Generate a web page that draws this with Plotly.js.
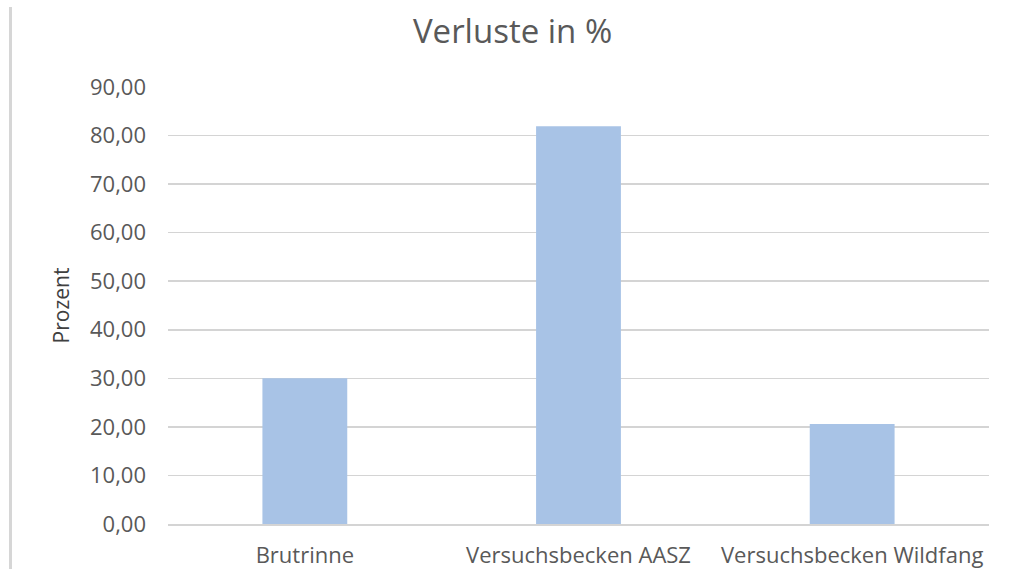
<!DOCTYPE html>
<html>
<head>
<meta charset="utf-8">
<script src="https://cdn.plot.ly/plotly-3.0.1.min.js"></script>
<style>
html,body{margin:0;padding:0;background:#fff;}
#wrap{position:relative;width:1013px;height:569px;}
#chart{width:1013px;height:569px;}
#edge{position:absolute;left:9px;top:7px;width:3px;height:562px;background:#d6d6d6;}
</style>
</head>
<body>
<div id="wrap"><div id="chart"></div><div id="edge"></div></div>
<script>
const categories = ["Brutrinne", "Versuchsbecken AASZ", "Versuchsbecken Wildfang"];
const verluste = [30.0, 81.9, 20.6];
const yTickVals = [0, 10, 20, 30, 40, 50, 60, 70, 80, 90];
const yTickText = ["0,00", "10,00", "20,00", "30,00", "40,00", "50,00", "60,00", "70,00", "80,00", "90,00"];

const font = "'Open Sans', Lato, sans-serif";
Plotly.newPlot("chart", [{
  type: "bar",
  x: categories,
  y: verluste,
  marker: {color: "#a8c3e6"},
  hoverinfo: "none"
}], {
  width: 1013, height: 569,
  margin: {l: 168, r: 24, t: 87, b: 45},
  paper_bgcolor: "#fff", plot_bgcolor: "#fff",
  bargap: 0.69,
  showlegend: false,
  title: {text: "Verluste in %", x: 0.506, xanchor: "center", y: 0.944, yanchor: "middle",
          font: {family: font, size: 33, color: "#595959"}},
  xaxis: {
    tickfont: {family: font, size: 22, color: "#595959"},
    showgrid: false, zeroline: false, showline: true, linecolor: "#d4d4d4", linewidth: 1.5,
    ticks: "", ticklabelstandoff: 11, fixedrange: true
  },
  yaxis: {
    range: [0, 90],
    tickvals: yTickVals, ticktext: yTickText,
    tickfont: {family: font, size: 22, color: "#595959"},
    showgrid: true, gridcolor: "#d4d4d4", gridwidth: 1.5,
    zeroline: false, showline: false, ticks: "", ticklabelstandoff: 21,
    title: {text: "Prozent", standoff: 14, font: {family: font, size: 21, color: "#404040"}},
    fixedrange: true
  }
}, {displayModeBar: false, staticPlot: true});
</script>
</body>
</html>
